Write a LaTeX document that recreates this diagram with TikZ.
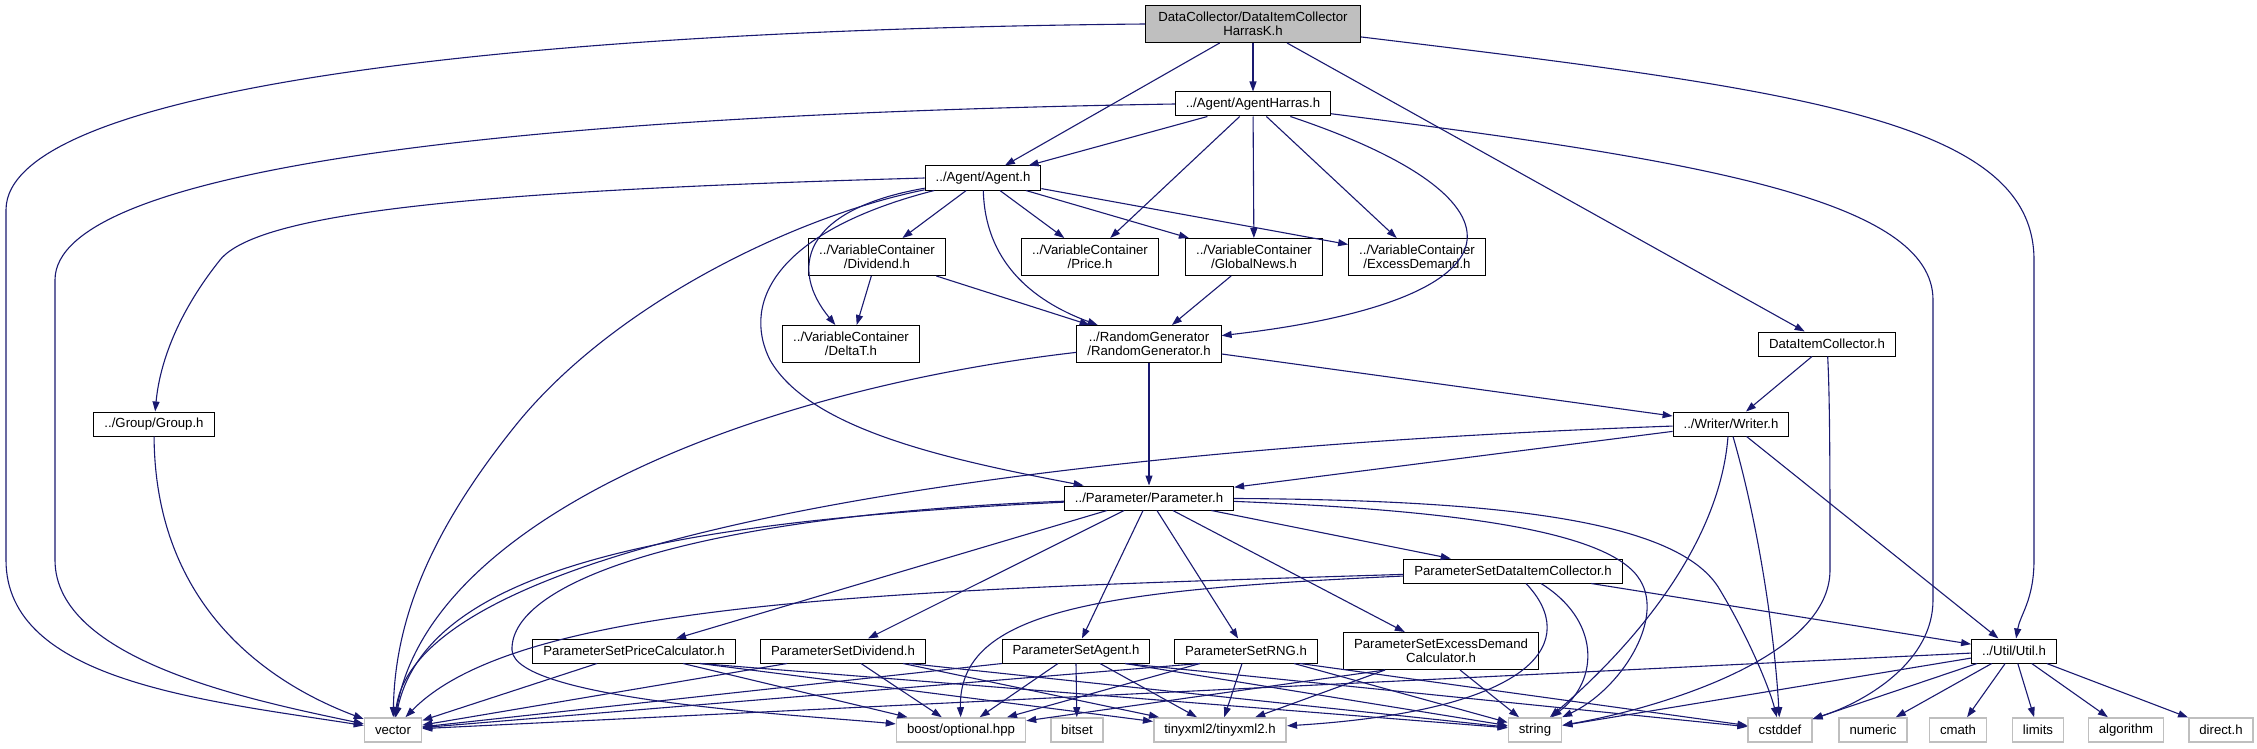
\documentclass[tikz,border=0pt]{standalone}
\usepackage{fontspec}
\setmainfont{Liberation Sans}
\usepackage{tikz}
\usetikzlibrary{arrows.meta}
\definecolor{DoxEdge}{HTML}{191970}
\definecolor{DoxGray}{HTML}{BFBFBF}

\begin{document}
\begin{tikzpicture}[x=1pt,y=-1pt,
 hdr/.style={draw=black,line width=1pt,fill=white,inner xsep=10.5pt,inner ysep=2pt,minimum height=24pt,align=center,font=\fontsize{13.2}{13.6}\selectfont},
 hdr2/.style={hdr,minimum height=37pt},
 sys/.style={hdr,draw=DoxGray,line width=1.6pt},
 dep/.style={draw=DoxEdge,line width=1.1pt,-{Triangle[length=10pt,width=7pt]}}]
\useasboundingbox (0,0) rectangle (2257,749);
\node[hdr2,fill=DoxGray,minimum width=215pt] (root) at (1253,24) {DataCollector/DataItemCollector\\HarrasK.h};
\node[hdr] (agentharras) at (1253,104) {../Agent/AgentHarras.h};
\node[hdr] (agent) at (983,178) {../Agent/Agent.h};
\node[hdr2] (dividend) at (877,257) {../VariableContainer\\/Dividend.h};
\node[hdr2] (price) at (1090,257) {../VariableContainer\\/Price.h};
\node[hdr2] (globalnews) at (1254,257) {../VariableContainer\\/GlobalNews.h};
\node[hdr2] (excessdemand) at (1417,257) {../VariableContainer\\/ExcessDemand.h};
\node[hdr2] (deltat) at (851,344) {../VariableContainer\\/DeltaT.h};
\node[hdr2] (randomgen) at (1149,344) {../RandomGenerator\\/RandomGenerator.h};
\node[hdr] (dataitemcoll) at (1827,344) {DataItemCollector.h};
\node[hdr] (group) at (154,424) {../Group/Group.h};
\node[hdr] (writer) at (1731,424) {../Writer/Writer.h};
\node[hdr] (parameter) at (1149,498) {../Parameter/Parameter.h};
\node[hdr] (psdic) at (1513,571) {ParameterSetDataItemCollector.h};
\node[hdr] (pspc) at (634,651) {ParameterSetPriceCalculator.h};
\node[hdr] (psdiv) at (843,651) {ParameterSetDividend.h};
\node[hdr] (psagent) at (1076,651) {ParameterSetAgent.h};
\node[hdr] (psrng) at (1246,651) {ParameterSetRNG.h};
\node[hdr2] (psedc) at (1441,651) {ParameterSetExcessDemand\\Calculator.h};
\node[hdr] (util) at (2014,651) {../Util/Util.h};
\node[sys] (vector) at (393,730) {vector};
\node[sys] (boost) at (961,730) {boost/optional.hpp};
\node[sys] (bitset) at (1077,730) {bitset};
\node[sys] (tinyxml) at (1220,730) {tinyxml2/tinyxml2.h};
\node[sys] (string) at (1535,730) {string};
\node[sys] (cstddef) at (1780,730) {cstddef};
\node[sys] (numeric) at (1873,730) {numeric};
\node[sys] (cmath) at (1958,730) {cmath};
\node[sys] (limits) at (2038,730) {limits};
\node[sys] (algorithm) at (2126,730) {algorithm};
\node[sys] (direct) at (2221,730) {direct.h};

\draw[dep] (root.west) .. controls (500,30) and (6,90) .. (6,210) -- (6,560) .. controls (6,680) and (200,700) .. (vector);
\draw[dep] (root) -- (agentharras); \draw[dep] (root) -- (agent); \draw[dep] (root) -- (dataitemcoll);
\draw[dep] (root) .. controls (1800,90) and (2034,120) .. (2034,260) -- (2034,560) .. controls (2034,600) and (2020,615) .. (util);
\draw[dep] (agentharras.west) .. controls (500,115) and (55,170) .. (55,280) -- (55,560) .. controls (55,660) and (250,700) .. (vector);
\draw[dep] (agentharras) -- (agent); \draw[dep] (agentharras) -- (price); \draw[dep] (agentharras) -- (globalnews); \draw[dep] (agentharras) -- (excessdemand);
\draw[dep] (agentharras) .. controls (1540,200) and (1530,300) .. (randomgen);
\draw[dep] (agentharras) .. controls (1700,160) and (1933,200) .. (1933,300) -- (1933,600) .. controls (1933,660) and (1870,700) .. (cstddef);
\draw[dep] (agent.west) .. controls (500,190) and (260,210) .. (220,260) .. controls (180,310) and (160,360) .. (group);
\draw[dep] (agent) .. controls (800,215) and (620,300) .. (520,420) .. controls (430,530) and (395,620) .. (vector);
\draw[dep] (agent) .. controls (800,210) and (790,270) .. (deltat);
\draw[dep] (agent) .. controls (780,230) and (740,300) .. (770,360) .. controls (810,430) and (950,460) .. (parameter);
\draw[dep] (agent) .. controls (985,260) and (1030,300) .. (randomgen);
\draw[dep] (agent) -- (dividend); \draw[dep] (agent) -- (price); \draw[dep] (agent) -- (globalnews); \draw[dep] (agent) -- (excessdemand);
\draw[dep] (dividend) -- (deltat); \draw[dep] (dividend) -- (randomgen); \draw[dep] (globalnews) -- (randomgen);
\draw[dep] (group) .. controls (155,600) and (260,680) .. (vector);
\draw[dep] (randomgen) .. controls (750,390) and (430,520) .. (vector);
\draw[dep] (randomgen) -- (parameter); \draw[dep] (randomgen) -- (writer);
\draw[dep] (dataitemcoll) -- (writer);
\draw[dep] (dataitemcoll) .. controls (1830,400) and (1830,480) .. (1830,570) .. controls (1830,660) and (1650,710) .. (string);
\draw[dep] (writer) .. controls (1000,450) and (420,540) .. (vector);
\draw[dep] (writer) -- (parameter); \draw[dep] (writer) -- (util);
\draw[dep] ([xshift=-3pt]writer.south) .. controls (1720,540) and (1640,640) .. (string);
\draw[dep] ([xshift=2pt]writer.south) .. controls (1760,530) and (1775,640) .. (cstddef);
\draw[dep] (parameter) .. controls (700,520) and (430,560) .. (vector);
\draw[dep] (parameter) .. controls (700,515) and (510,580) .. (512,650) .. controls (514,700) and (800,715) .. (boost);
\draw[dep] (parameter) .. controls (1450,510) and (1610,530) .. (1640,580) .. controls (1665,620) and (1620,690) .. (string);
\draw[dep] (parameter) .. controls (1500,500) and (1680,520) .. (1720,590) .. controls (1750,640) and (1770,690) .. (cstddef);
\draw[dep] (parameter) -- (pspc); \draw[dep] (parameter) -- (psdiv); \draw[dep] (parameter) -- (psagent);
\draw[dep] (parameter) -- (psrng); \draw[dep] (parameter) -- (psedc); \draw[dep] (parameter) -- (psdic);
\draw[dep] (psdic) .. controls (900,590) and (520,600) .. (vector);
\draw[dep] (psdic) .. controls (1100,590) and (958,610) .. (boost);
\draw[dep] ([xshift=13pt]psdic.south) .. controls (1580,640) and (1540,710) .. (tinyxml);
\draw[dep] ([xshift=28pt]psdic.south) .. controls (1600,620) and (1600,680) .. (string);
\draw[dep] (psdic) -- (util);
\draw[dep] ([xshift=-37pt]pspc.south) -- (vector); \draw[dep] ([xshift=49pt]pspc.south) -- (boost);
\draw[dep] ([xshift=66pt]pspc.south) -- (tinyxml); \draw[dep] ([xshift=66pt]pspc.south) -- (string);
\draw[dep] ([xshift=-56pt]psdiv.south) -- (vector); \draw[dep] ([xshift=18pt]psdiv.south) -- (boost);
\draw[dep] ([xshift=60pt]psdiv.south) -- (tinyxml); \draw[dep] ([xshift=66pt]psdiv.south) -- (string);
\draw[dep] ([xshift=-74pt]psagent.south) -- (vector); \draw[dep] ([xshift=-18pt]psagent.south) -- (boost);
\draw[dep] (psagent.south) -- (bitset); \draw[dep] ([xshift=24pt]psagent.south) -- (tinyxml);
\draw[dep] ([xshift=49pt]psagent.south) -- (string); \draw[dep] ([xshift=49pt]psagent.south) -- (cstddef);
\draw[dep] ([xshift=-46pt]psrng.south) -- (vector); \draw[dep] ([xshift=-46pt]psrng.south) -- (boost);
\draw[dep] ([xshift=-4pt]psrng.south) -- (tinyxml); \draw[dep] ([xshift=48pt]psrng.south) -- (string);
\draw[dep] ([xshift=54pt]psrng.south) -- (cstddef);
\draw[dep] ([xshift=-56pt]psedc.south) -- (boost); \draw[dep] ([xshift=-56pt]psedc.south) -- (tinyxml);
\draw[dep] ([xshift=19pt]psedc.south) -- (string);
\draw[dep] (util) -- (vector); \draw[dep] (util) -- (string); \draw[dep] (util) -- (cstddef);
\foreach \t in {numeric,cmath,limits,algorithm,direct} \draw[dep] (util) -- (\t);
\end{tikzpicture}
\end{document}
